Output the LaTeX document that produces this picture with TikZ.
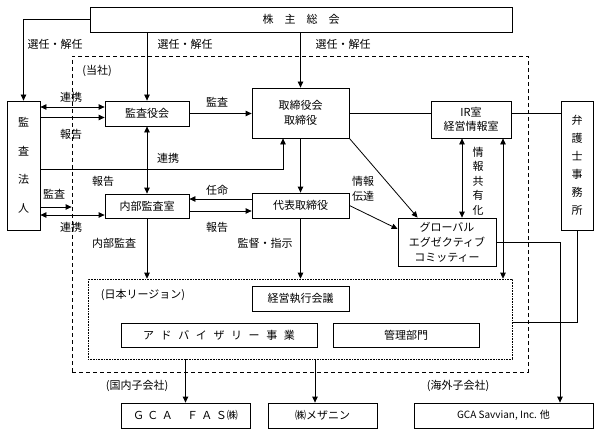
\documentclass[tikz,border=0pt]{standalone}
\usepackage{fontspec}
\setmainfont{Noto Sans CJK JP}
\usetikzlibrary{arrows.meta}

\begin{document}
\begin{tikzpicture}[x=1pt, y=-1pt, font=\fontsize{11}{13}\selectfont,
  >={Triangle[length=6pt,width=5.5pt]},
  box/.style = {draw, line width=0.8pt, inner sep=0pt, align=center},
  lbl/.style = {inner sep=0pt, align=center},
  conn/.style = {line width=0.8pt},
  arr/.style = {conn, ->},
  dbl/.style = {conn, <->}]
  \useasboundingbox (0,0) rectangle (600,436);

  % frames
  \node[draw, line width=0.8pt, dash pattern=on 4pt off 3pt, inner sep=0pt,
    minimum width=456pt, minimum height=316pt] (company) at (300,214) {};
  \node[draw, densely dotted, line width=0.6pt, inner sep=0pt,
    minimum width=424pt, minimum height=80pt] (japan) at (300,319) {};

  % boxes
  \node[box, minimum width=422pt, minimum height=25pt] (share) at (301,19.5)
    {株\hspace{1em}主\hspace{1em}総\hspace{1em}会};
  \node[box, minimum width=33pt, minimum height=129pt,
    font=\fontsize{11}{28.5}\selectfont] (auditor) at (23.5,165.5) {監\\査\\法\\人};
  \node[box, minimum width=84pt, minimum height=25pt] (kansa) at (147,113.5) {監査役会};
  \node[box, minimum width=97pt, minimum height=50pt,
    font=\fontsize{11}{15}\selectfont] (board) at (300.5,113) {取締役会\\取締役};
  \node[box, minimum width=80pt, minimum height=37pt,
    font=\fontsize{11}{14}\selectfont] (ir) at (471,119.5) {IR室\\経営情報室};
  \node[box, minimum width=32pt, minimum height=129pt,
    font=\fontsize{11}{18}\selectfont] (lawyer) at (577,165.5) {弁\\護\\士\\事\\務\\所};
  \node[box, minimum width=84pt, minimum height=24pt] (internal) at (147,206) {内部監査室};
  \node[box, minimum width=97pt, minimum height=25pt] (ceo) at (300.5,205.5) {代表取締役};
  \node[box, minimum width=98pt, minimum height=48pt,
    font=\fontsize{11}{15}\selectfont] (gec) at (447,242)
    {グローバル\\エグゼクティブ\\コミッティー};
  \node[box, minimum width=97pt, minimum height=25pt] (exec) at (300.5,298.5) {経営執行会議};
  \node[box, minimum width=196pt, minimum height=24pt] (advisory) at (219,335)
    {ア\hspace{.6em}ド\hspace{.6em}バ\hspace{.6em}イ\hspace{.6em}ザ\hspace{.6em}リ\hspace{.6em}ー\hspace{.6em}事\hspace{.6em}業};
  \node[box, minimum width=146pt, minimum height=24pt] (admin) at (406,335) {管理部門};
  \node[box, minimum width=129pt, minimum height=25pt] (fas) at (185.5,415.5)
    {Ｇ\hspace{3.5pt}Ｃ\hspace{3.5pt}Ａ\hspace{14pt}Ｆ\hspace{3.5pt}Ａ\hspace{3.5pt}Ｓ㈱};
  \node[box, minimum width=109pt, minimum height=25pt] (mezz) at (322.5,415.5) {㈱メザニン};
  \node[box, minimum width=179pt, minimum height=25pt, font=\fontsize{10}{12}\selectfont]
    (savvian) at (503.5,415.5) {GCA Savvian, Inc. 他};

  % labels
  \node[lbl] (elect1) at (55,44) {選任・解任};
  \node[lbl] (elect2) at (185,44) {選任・解任};
  \node[lbl] (elect3) at (343,44) {選任・解任};
  \node[lbl] (tosha) at (97,71) {(当社)};
  \node[lbl] (renkei1) at (71,97) {連携};
  \node[lbl] (houkoku1) at (71,134) {報告};
  \node[lbl] (kansa-lbl) at (217,102) {監査};
  \node[lbl] (renkei2) at (168,158) {連携};
  \node[lbl] (houkoku2) at (103,181) {報告};
  \node[lbl] (kansa-au) at (54,194) {監査};
  \node[lbl] (renkei3) at (71,227) {連携};
  \node[lbl] (ninmei) at (217,190) {任命};
  \node[lbl] (houkoku3) at (217,227) {報告};
  \node[lbl] (naibu) at (114,243) {内部監査};
  \node[lbl] (kantoku) at (265,243) {監督・指示};
  \node[lbl, font=\fontsize{11}{15}\selectfont] (dentatsu) at (363,189) {情報\\伝達};
  \node[lbl, font=\fontsize{11}{14.5}\selectfont] (kyoyu) at (478,181) {情\\報\\共\\有\\化};
  \node[lbl] (region) at (143,295) {(日本リージョン)};
  \node[lbl] (domestic) at (137,386) {(国内子会社)};
  \node[lbl] (overseas) at (458,386) {(海外子会社)};

  % connectors
  \draw[arr] (share.west) -| (auditor.north);
  \draw[arr] (kansa.north |- share.south) -- (kansa.north);
  \draw[arr] (board.north |- share.south) -- (board.north);
  \draw[dbl] ([yshift=6.5pt]kansa.west -| auditor.east) -- ([yshift=6.5pt]kansa.west);
  \draw[arr] ([yshift=-4pt]kansa.west -| auditor.east) -- ([yshift=-4pt]kansa.west);
  \draw[arr] (kansa.east) -- (kansa.east -| board.west);
  \draw[conn] (board.east) -- (board.east -| ir.west);
  \draw[conn] (board.east -| ir.east) -- (board.east -| lawyer.west);
  \draw[dbl] (kansa.south) -- (internal.north);
  \draw[arr] ([yshift=-3.5pt]auditor.east) -| ([xshift=-17.5pt]board.south);
  \draw[arr] (board.south) -- (ceo.north);
  \draw[arr] ([yshift=-1pt]internal.west -| auditor.east) -- ([yshift=-1pt]internal.west -| company.west);
  \draw[dbl] ([yshift=-9pt]internal.west -| auditor.east) -- ([yshift=-9pt]internal.west);
  \draw[arr] ([yshift=6.5pt]ceo.west) -- ([yshift=6.5pt]ceo.west -| internal.east);
  \draw[arr] ([yshift=-5pt]internal.east) -- ([yshift=-5pt]internal.east -| ceo.west);
  \draw[arr] (board.south east) -- ([xshift=20pt]gec.north west);
  \draw[arr] (ceo.east) -- ([yshift=13pt]gec.west);
  \draw[dbl] ([xshift=-9pt]ir.south) -- ([xshift=-9pt]ir.south |- gec.north);
  \draw[dbl] ([xshift=32pt]ir.south) -- ([xshift=32pt]ir.south |- japan.north);
  \draw[arr] (gec.east) -| ([xshift=56.5pt]savvian.north);
  \draw[conn] (lawyer.south) |- ([yshift=-3pt]japan.east);
  \draw[arr] (internal.south) -- (internal.south |- japan.north);
  \draw[arr] (ceo.south) -- (ceo.south |- japan.north);
  \draw[arr] (fas.north |- japan.south) -- (fas.north);
  \draw[arr] ([xshift=-7.5pt]mezz.north |- japan.south) -- ([xshift=-7.5pt]mezz.north);
\end{tikzpicture}
\end{document}
